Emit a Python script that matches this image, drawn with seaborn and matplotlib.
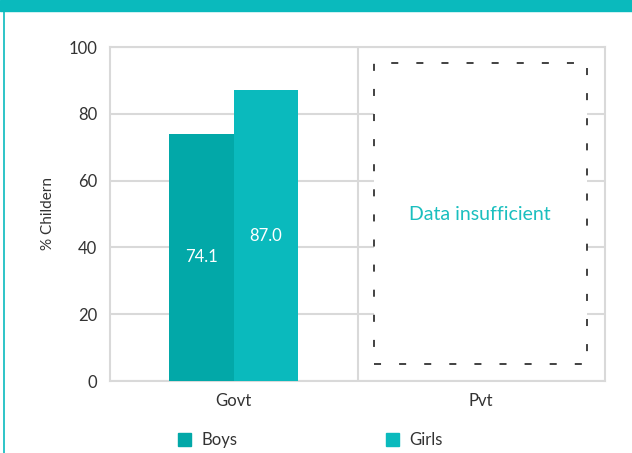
import numpy as np
import pandas as pd
import matplotlib
matplotlib.use('Agg')
import matplotlib.pyplot as plt
from matplotlib.patches import Rectangle
from matplotlib.lines import Line2D
import seaborn as sns

# data
schools = ['Govt', 'Pvt']
boys = [74.1, np.nan]
girls = [87.0, np.nan]
genders = ['Boys', 'Girls']
yticks = [0, 20, 40, 60, 80, 100]

teal = '#0ABABD'
palette = {'Boys': '#02A8A8', 'Girls': '#0ABABD'}
grid_col = '#d9d9d9'
text_col = '#333333'

sns.set_style('white')
plt.rcParams['font.family'] = ['Lato', 'DejaVu Sans']

df = pd.DataFrame({'School': schools * 2,
                   'Gender': ['Boys'] * 2 + ['Girls'] * 2,
                   'Value': boys + girls}).dropna()

fig = plt.figure(figsize=(6.32, 4.53), dpi=100)
ax = fig.add_axes([110 / 632, 1 - 381 / 453, 495 / 632, 334 / 453])

sns.barplot(data=df, x='School', y='Value', hue='Gender', order=schools,
            hue_order=genders, palette=palette, width=0.52, gap=0,
            saturation=1, errorbar=None, legend=False, ax=ax, zorder=3,
            linewidth=0, edgecolor='none')

for cont in ax.containers:
    ax.bar_label(cont, fmt='%.1f', label_type='center', color='white',
                 fontsize=12)

ax.set_xlim(-0.5, 1.5)
ax.set_ylim(0, 100)
ax.set_yticks(yticks)
ax.yaxis.grid(True, color=grid_col, lw=1.5, zorder=0)
ax.set_axisbelow(True)
ax.axvline(0.5, color=grid_col, lw=1.5, zorder=1)
for sp in ax.spines.values():
    sp.set_color(grid_col)
    sp.set_linewidth(1.5)
ax.tick_params(axis='both', length=0, labelsize=12, labelcolor=text_col)
ax.tick_params(axis='y', pad=9)
ax.tick_params(axis='x', pad=9)
ax.set_xlabel('')
ax.set_ylabel('% Childern', fontsize=11, color=text_col, labelpad=10)

# data insufficient box for private schools
box = Rectangle((0.567, 5.1), 0.86, 90.1, facecolor='white', edgecolor='#333333',
                lw=1.3, linestyle=(0, (3.9, 10)), zorder=2)
ax.add_patch(box)
ax.text(0.995, 50, 'Data insufficient', color='#1ABFBF', fontsize=14,
        ha='center', va='center', zorder=4)

handles = [Rectangle((0, 0), 1, 1, color=palette[g]) for g in genders]
fig.legend(handles, genders, loc='center left', bbox_to_anchor=(163 / 632, 1 - 440 / 453),
           ncol=2, frameon=False, fontsize=12, handlelength=0.8, handleheight=0.8,
           handletextpad=0.6, columnspacing=8.9, labelcolor=text_col)

# header band and left border
fig.patches.append(Rectangle((0, 1 - 11 / 453), 1, 11 / 453, transform=fig.transFigure,
                             color=teal, zorder=0))
fig.lines.append(Line2D([3.5 / 632, 3.5 / 632], [0, 1 - 11 / 453], transform=fig.transFigure,
                        color=teal, lw=1.2))

fig.savefig('out.png', dpi=100)
